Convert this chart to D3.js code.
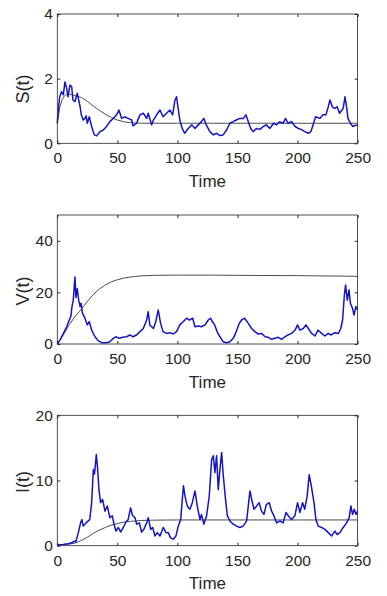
<!DOCTYPE html>
<html>
<head>
<meta charset="utf-8">
<script src="https://cdn.jsdelivr.net/npm/d3@7"></script>
<style>
  body { margin: 0; background: #fff; }
  svg { display: block; font-family: "Liberation Sans", Arial, sans-serif; }
  .tick text { font-size: 15.5px; fill: #262626; }
  .tick line { stroke: #262626; }
</style>
</head>
<body>
<div id="chart"></div>
<script>
const width = 387;
const height = 596;

// x values shared by all panels
const xTicks = [0, 50, 100, 150, 200, 250];

// S(t) stochastic path
const sTime = [0, 1, 2, 3.6, 5, 6.4, 7.8, 9, 10.5, 12, 13, 14.7, 16.6, 19, 20, 21.6, 23, 24, 25, 26.6, 28.6, 30.8, 32.7, 35.5, 38.3, 41, 43.8, 46.6, 49.4, 51.3, 53.6, 56, 59, 62, 63, 66, 68.8, 71.6, 74.4, 75.7, 78.5, 80, 82.7, 85.5, 88, 91, 93.8, 96, 98, 99.3, 100.4, 102, 104, 106, 109, 112, 114.6, 117.4, 120, 122, 124, 127, 130, 132.6, 135.4, 138, 141, 143.7, 146.5, 149, 152, 154.8, 157, 159, 161, 163, 166, 168.7, 171.5, 174, 177, 180, 182.6, 185, 188, 190, 192, 195, 198, 200.6, 203, 206, 209, 211, 213, 215, 218.6, 221, 223.6, 225.6, 227, 229, 231, 233, 235, 238, 239.5, 241, 242, 244, 246, 248, 250];
const sValues = [0.62, 1.1, 1.44, 1.6, 1.5, 1.9, 1.7, 1.44, 1.8, 1.75, 1.34, 1.29, 1.55, 1.13, 0.88, 0.72, 0.77, 0.85, 0.62, 0.82, 0.52, 0.26, 0.23, 0.36, 0.41, 0.52, 0.67, 0.77, 0.88, 1.03, 0.77, 0.82, 0.77, 0.72, 0.54, 0.62, 0.88, 0.93, 0.77, 0.93, 0.57, 0.72, 0.88, 1.03, 0.82, 0.93, 1.03, 0.88, 1.34, 1.44, 1.13, 0.72, 0.46, 0.31, 0.46, 0.57, 0.46, 0.57, 0.67, 0.77, 0.57, 0.36, 0.26, 0.31, 0.24, 0.26, 0.41, 0.62, 0.67, 0.72, 0.77, 0.77, 0.88, 0.67, 0.46, 0.36, 0.46, 0.43, 0.52, 0.57, 0.46, 0.62, 0.57, 0.67, 0.62, 0.77, 0.62, 0.67, 0.52, 0.46, 0.43, 0.36, 0.31, 0.36, 0.57, 0.82, 0.77, 0.88, 0.88, 1.13, 1.34, 1.13, 1.08, 1.13, 0.93, 1.08, 1.44, 1.08, 0.77, 0.62, 0.52, 0.55, 0.57];

// S(t) deterministic curve
const sDetTime = [0, 2, 4, 6, 8, 10, 12, 15, 20, 25, 30, 35, 40, 45, 50, 55, 60, 70, 100, 150, 200, 250];
const sDetValues = [0.62, 1.1, 1.35, 1.47, 1.52, 1.52, 1.5, 1.47, 1.42, 1.3, 1.15, 1.02, 0.9, 0.8, 0.72, 0.67, 0.64, 0.62, 0.62, 0.62, 0.62, 0.62];

// V(t) stochastic path
const vTime = [0, 2.2, 5, 7.8, 10, 11.4, 12.2, 13.3, 14.7, 15.5, 16.6, 17.8, 19, 19.7, 21, 23, 25, 26.6, 28.6, 31.4, 34, 37, 41, 43.8, 46.6, 48.8, 51.6, 54.4, 57.7, 60.5, 63, 66, 68.8, 71.6, 74.4, 75.7, 77, 80, 82, 84, 86, 88, 91, 93.8, 96.6, 99.3, 102, 105, 107.7, 110, 112.7, 114.6, 117.4, 120, 123, 125.7, 127.6, 129, 131, 133, 135.4, 138, 141, 143.7, 146.5, 149, 151.5, 153.4, 156, 159, 161.8, 164.5, 167, 170, 173, 175.6, 178.4, 181, 184, 186.7, 189.5, 192, 195, 198, 200, 202, 204.8, 207, 209, 211.7, 214.5, 217, 220, 222.8, 225.6, 228, 231, 234, 236, 237.5, 239, 240, 241.4, 242.8, 244, 245.8, 247, 248.6, 250];
const vValues = [0, 1.5, 4, 6.7, 9.3, 11, 14.5, 17, 26, 18, 21.5, 17, 14.5, 15.8, 11.9, 10, 7.4, 8.7, 5.4, 2.8, 1.3, 0.5, 0.5, 0.9, 2.2, 2.8, 2.2, 2.6, 2.8, 3.5, 2.8, 3.5, 4.8, 6, 9.3, 12.5, 7.4, 6, 8.7, 13.2, 8, 4.8, 4.1, 4.4, 3.9, 4.8, 7.4, 8.7, 10, 9.3, 10, 6.7, 7, 6.7, 7.4, 9.3, 10, 8.7, 7.4, 4.8, 2.8, 0.9, 0.5, 0.9, 2.2, 4.8, 8, 9.3, 10, 8, 6, 4.8, 3.9, 4.1, 2.8, 2.6, 1.8, 2.2, 2.6, 1.8, 2.8, 3.5, 4.1, 5.4, 7.4, 5.4, 6, 7.4, 6, 4.1, 3.1, 5.4, 4.1, 3.1, 4.1, 3.5, 4.4, 4.1, 6, 9.3, 19, 22.9, 17, 21, 15.8, 13.8, 11.2, 14.5, 13.2];

// V(t) deterministic curve
const vDetTime = [0, 5, 10, 15, 20, 25, 30, 35, 40, 45, 50, 55, 60, 65, 70, 80, 100, 130, 150, 200, 240, 250];
const vDetValues = [0, 3.5, 7.5, 10.8, 13.5, 16.5, 19.2, 21.3, 22.9, 24.1, 24.9, 25.5, 25.9, 26.2, 26.4, 26.6, 26.7, 26.7, 26.6, 26.5, 26.3, 26.2];

// I(t) stochastic path
const iTime = [0, 5, 9, 12, 14, 15.5, 17.5, 19.4, 20.5, 21.6, 23.9, 25.8, 27, 28.6, 30, 31, 32.5, 33.6, 34.7, 36, 37.7, 39.7, 41.6, 43.8, 45.8, 47.2, 48.8, 50.8, 52.7, 55, 57, 59, 61, 62.7, 64.7, 66, 68.3, 70.2, 72, 74.4, 75.7, 77.7, 79.4, 81.3, 83.2, 85.5, 88.2, 90.5, 92.4, 94.3, 96.5, 98.8, 100.7, 102.7, 105, 106.3, 108.2, 110.4, 112.4, 114.6, 116.5, 118.8, 120, 122, 124.3, 126.5, 128.5, 129.9, 131.2, 132.6, 134, 135.4, 136.8, 138.2, 139.8, 141.5, 143.7, 146.5, 149.3, 152, 154.8, 157.6, 159, 160.4, 161.8, 163.7, 166, 168, 170, 172, 174, 176.4, 178.4, 180.3, 182.6, 185.3, 188, 190.4, 192.3, 195, 197.8, 200, 202, 204.2, 206, 208, 209.7, 211.7, 213.7, 215.3, 217.3, 220, 222.8, 225.6, 228.4, 231, 233, 235.3, 238, 240.8, 243, 244.4, 245.8, 247.2, 248.6, 250];
const iValues = [0.15, 0.2, 0.3, 0.45, 0.7, 0.6, 2, 3.5, 4, 3, 3.5, 3.8, 4, 6.6, 11.7, 11, 14, 11.7, 8.6, 6.6, 7.1, 5.3, 6.1, 4.3, 4.6, 3.3, 2.25, 2.8, 2.1, 2.8, 3.6, 4, 5.8, 4.6, 4.3, 3.3, 3.5, 2.1, 2.5, 3.5, 4.3, 2.5, 2.8, 1.5, 2, 1.5, 2.8, 2, 2, 1.2, 1, 1.5, 3, 4, 9.2, 7.6, 6.1, 5.6, 6.6, 8.4, 6.1, 4, 4.8, 3.3, 4.6, 7.6, 13.2, 13.8, 11.2, 13.8, 8.6, 11.7, 14.3, 10.7, 7.6, 4.6, 3.8, 3.3, 3, 2.8, 3, 3.8, 6.1, 8.4, 7.1, 5.6, 6.1, 6.6, 5.3, 4.8, 6.3, 6.6, 5.3, 4.6, 3.5, 3.8, 3.5, 5.1, 4.6, 4, 4.6, 6.6, 5.1, 6.6, 5.6, 7.6, 10.9, 8.9, 6.6, 4, 3, 2.8, 2.5, 2, 1.5, 2.25, 1.7, 2, 2.8, 3.5, 4.3, 6.1, 4.8, 5.6, 4.8, 5.3];

// I(t) deterministic curve
const iDetTime = [0, 10, 15, 20, 25, 30, 35, 40, 45, 50, 55, 60, 65, 70, 80, 100, 150, 200, 250];
const iDetValues = [0.15, 0.25, 0.4, 0.8, 1.3, 1.9, 2.4, 2.8, 3.15, 3.4, 3.6, 3.72, 3.8, 3.87, 3.92, 3.95, 3.95, 3.95, 3.95];

const panels = [
  { label: "S(t)", top: 14, bottom: 143.3, max: 4, ticks: [0, 2, 4], time: sTime, values: sValues, detTime: sDetTime, detValues: sDetValues, labelY: 89 },
  { label: "V(t)", top: 215, bottom: 344, max: 50, ticks: [0, 20, 40], time: vTime, values: vValues, detTime: vDetTime, detValues: vDetValues, labelY: 291 },
  { label: "I(t)", top: 415.3, bottom: 545.7, max: 20, ticks: [0, 10, 20], time: iTime, values: iValues, detTime: iDetTime, detValues: iDetValues, labelY: 482 }
];

const left = 57.3;
const right = 357.6;

const svg = d3.select("#chart")
  .append("svg")
  .attr("width", width)
  .attr("height", height);

const x = d3.scaleLinear().domain([0, 250]).range([left, right]);

panels.forEach(p => {
  const y = d3.scaleLinear().domain([0, p.max]).range([p.bottom, p.top]);
  const g = svg.append("g");

  const line = d3.line()
    .x(d => x(d[0]))
    .y(d => y(d[1]));

  // deterministic solution
  g.append("path")
    .datum(d3.zip(p.detTime, p.detValues))
    .attr("fill", "none")
    .attr("stroke", "#3a3a3a")
    .attr("stroke-width", 0.9)
    .attr("d", line);

  // stochastic path
  g.append("path")
    .datum(d3.zip(p.time, p.values))
    .attr("fill", "none")
    .attr("stroke", "#1414c0")
    .attr("stroke-width", 1.5)
    .attr("stroke-linejoin", "round")
    .attr("d", line);

  // axes, ticks pointing inward
  g.append("g")
    .attr("transform", `translate(0,${p.bottom})`)
    .call(d3.axisBottom(x).tickValues(xTicks).tickSize(-3).tickPadding(9))
    .call(a => a.select(".domain").remove());

  g.append("g")
    .attr("transform", `translate(0,${p.top})`)
    .call(d3.axisTop(x).tickValues(xTicks).tickSize(-3).tickFormat(""))
    .call(a => a.select(".domain").remove());

  g.append("g")
    .attr("transform", `translate(${left},0)`)
    .call(d3.axisLeft(y).tickValues(p.ticks).tickSize(-3).tickPadding(4.5).tickFormat(d3.format("d")))
    .call(a => a.select(".domain").remove());

  g.append("g")
    .attr("transform", `translate(${right},0)`)
    .call(d3.axisRight(y).tickValues(p.ticks).tickSize(-3).tickFormat(""))
    .call(a => a.select(".domain").remove());

  g.selectAll(".tick text").attr("font-family", null).attr("font-size", null);

  g.append("rect")
    .attr("x", left)
    .attr("y", p.top)
    .attr("width", right - left)
    .attr("height", p.bottom - p.top)
    .attr("fill", "none")
    .attr("stroke", "#262626")
    .attr("stroke-width", 0.8);

  g.append("text")
    .attr("x", (left + right) / 2)
    .attr("y", p.bottom + 43.5)
    .attr("text-anchor", "middle")
    .attr("font-size", 17)
    .attr("fill", "#262626")
    .text("Time");

  g.append("text")
    .attr("transform", `translate(29,${p.labelY}) rotate(-90)`)
    .attr("text-anchor", "middle")
    .attr("font-size", 18)
    .attr("fill", "#262626")
    .text(p.label);
});
</script>
</body>
</html>
